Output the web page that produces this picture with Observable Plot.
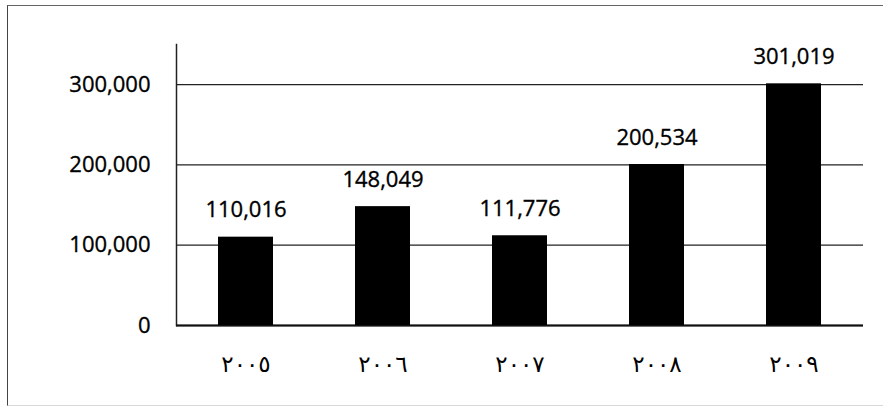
<!DOCTYPE html>
<html>
<head>
<meta charset="utf-8">
<script src="https://cdn.jsdelivr.net/npm/d3@7"></script>
<script src="https://cdn.jsdelivr.net/npm/@observablehq/plot@0.6"></script>
<style>
  html, body { margin: 0; padding: 0; background: #fff; }
  #wrap { position: relative; width: 883px; height: 407px; overflow: hidden; background: #fff; }
  #border { position: absolute; left: 7px; top: 5px; width: 900px; height: 399px;
            border-left: 1.5px solid #444; border-top: 1.5px solid #666; border-bottom: 1.5px solid #d8d8d8; }
  #chart { position: absolute; left: 0; top: 0; }
  #chart svg text { stroke: #000; stroke-width: 0.35px; }
  #chart svg g[aria-label="x-axis tick label"] text { letter-spacing: 3px; stroke-width: 0; font-weight: normal; }
</style>
</head>
<body>
<div id="wrap"><div id="border"></div><div id="chart"></div></div>
<script>
const years = ["٢٠٠٥", "٢٠٠٦", "٢٠٠٧", "٢٠٠٨", "٢٠٠٩"];
const values = [110016, 148049, 111776, 200534, 301019];
const yTicks = [0, 100000, 200000, 300000];

const data = years.map((y, i) => ({year: y, value: values[i]}));
const fmt = d3.format(",");

const chart = Plot.plot({
  width: 883,
  height: 407,
  marginLeft: 176,
  marginRight: 20,
  marginTop: 44,
  marginBottom: 82,
  style: {fontFamily: "'Open Sans', sans-serif", background: "transparent", color: "#000"},
  x: {domain: years, paddingInner: 0.6, paddingOuter: 0.3, label: null},
  y: {domain: [0, 350000], label: null},
  marks: [
    Plot.ruleY(yTicks, {stroke: "#222", strokeWidth: 1.3}),
    Plot.frame({anchor: "left", stroke: "#222", strokeWidth: 1.5}),
    Plot.ruleY([0], {stroke: "#111", strokeWidth: 2}),
    Plot.barY(data, {x: "year", y: "value", fill: "#000"}),
    Plot.text(data, {x: "year", y: "value", text: d => fmt(d.value), dy: -27, fontSize: 22, fill: "#000"}),
    Plot.axisY({ticks: yTicks, tickSize: 0, tickPadding: 26, tickFormat: fmt, fontSize: 22, label: null}),
    Plot.axisX({tickSize: 0, tickPadding: 30, fontSize: 23, label: null, fontFamily: "'DejaVu Sans', sans-serif"})
  ]
});
document.getElementById("chart").appendChild(chart);
</script>
</body>
</html>
